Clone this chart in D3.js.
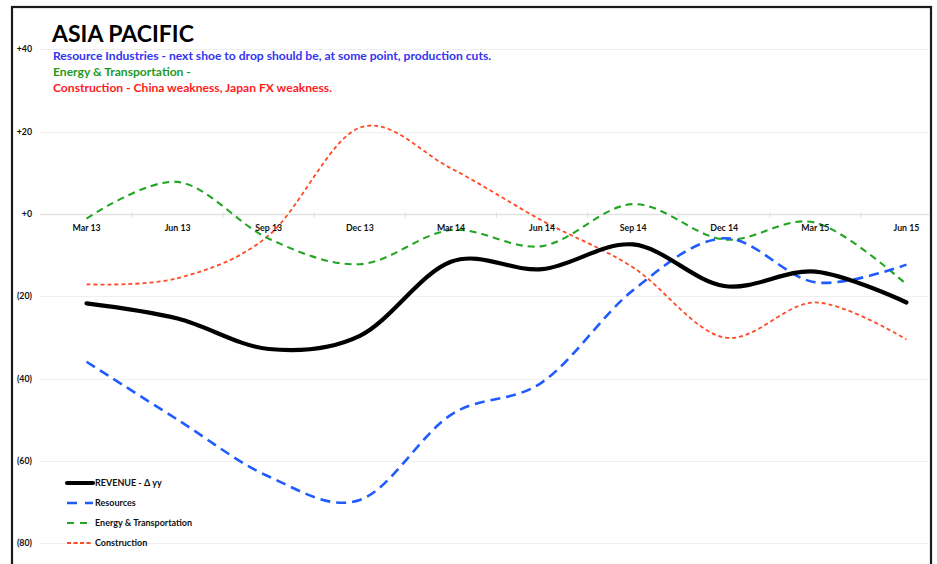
<!DOCTYPE html>
<html>
<head>
<meta charset="utf-8">
<script src="https://cdn.jsdelivr.net/npm/d3@7"></script>
<style>
  html, body { margin: 0; padding: 0; background: #fff; }
  svg { display: block; }
  text { font-family: Lato, "Open Sans", sans-serif; }
</style>
</head>
<body>
<svg id="chart" width="937" height="564"></svg>
<script>
// Quarterly year-over-year change, Asia Pacific
const quarters = ["Mar 13", "Jun 13", "Sep 13", "Dec 13", "Mar 14", "Jun 14", "Sep 14", "Dec 14", "Mar 15", "Jun 15"];
const revenue = [-21.7, -25.4, -32.8, -29.6, -11.6, -13.4, -7.4, -17.5, -14.0, -21.5];
const resources = [-35.9, -50.0, -63.8, -69.5, -48.8, -40.9, -18.5, -5.9, -16.6, -12.3];
const energyTransport = [-1.1, 7.8, -6.0, -12.2, -3.9, -7.8, 2.4, -6.2, -2.1, -17.1];
const construction = [-17.1, -15.6, -5.2, 21.0, 11.1, -1.6, -13.0, -30.0, -21.5, -30.5];
const yTicks = [40, 20, 0, -20, -40, -60, -80];
const yTickLabels = ["+40", "+20", "+0", "(20)", "(40)", "(60)", "(80)"];

const title = "ASIA PACIFIC";
const notes = [
  { text: "Resource Industries - next shoe to drop should be, at some point, production cuts.", color: "#3434f0" },
  { text: "Energy & Transportation -", color: "#1f9a1f" },
  { text: "Construction - China weakness, Japan FX weakness.", color: "#ff1c1c" }
];

const series = [
  { name: "REVENUE - \u0394 yy", values: revenue, color: "#000000", width: 4.2, dash: null, legendDash: null },
  { name: "Resources", values: resources, color: "#1f5bff", width: 2.6, dash: "10,6", legendDash: "10,8" },
  { name: "Energy & Transportation", values: energyTransport, color: "#23a523", width: 2.1, dash: "7,5", legendDash: "7,6" },
  { name: "Construction", values: construction, color: "#ff4a26", width: 1.8, dash: "4,3", legendDash: "4,2.5" }
];

const svg = d3.select("#chart");

const x = d3.scaleBand().domain(quarters).range([41, 952]);
const cx = d => x(d) + x.bandwidth() / 2;
const y = d3.scaleLinear().domain([-80, 40]).range([543.2, 49.4]);

// Outer frame
svg.append("rect")
  .attr("x", 12).attr("y", 7).attr("width", 919).attr("height", 580)
  .attr("fill", "#fff").attr("stroke", "#1a1a1a").attr("stroke-width", 2.2);

const plot = svg.append("g");
plot.append("clipPath").attr("id", "clip")
  .append("rect").attr("x", 13).attr("y", 8).attr("width", 917).attr("height", 560);

// Horizontal gridlines
const grid = plot.append("g").attr("clip-path", "url(#clip)");
grid.selectAll("line.grid").data(yTicks).join("line")
  .attr("class", "grid")
  .attr("x1", 40).attr("x2", 952)
  .attr("y1", d => Math.round(y(d)) + 0.5).attr("y2", d => Math.round(y(d)) + 0.5)
  .attr("stroke", d => d === 0 ? "#e2e2e2" : "#efefef")
  .attr("stroke-width", d => d === 0 ? 1.5 : 1);

// Category boundary ticks on the zero line
const bounds = quarters.slice(1).map(q => x(q));
grid.selectAll("line.tick").data(bounds).join("line")
  .attr("class", "tick")
  .attr("x1", d => d).attr("x2", d => d)
  .attr("y1", Math.round(y(0)) - 2).attr("y2", Math.round(y(0)) + 4)
  .attr("stroke", "#e2e2e2").attr("stroke-width", 1);

// Y axis labels
svg.append("g").selectAll("text").data(yTicks).join("text")
  .attr("x", 32).attr("y", d => y(d))
  .attr("dy", "0.35em")
  .attr("text-anchor", "end")
  .attr("font-size", 8.8).attr("font-weight", 700).attr("fill", "#111")
  .text((d, i) => yTickLabels[i]);

// X axis labels
svg.append("g").selectAll("text").data(quarters).join("text")
  .attr("x", d => cx(d)).attr("y", y(0) + 14)
  .attr("dy", "0.35em")
  .attr("text-anchor", "middle")
  .attr("font-size", 8.8).attr("font-weight", 700).attr("fill", "#111")
  .text(d => d);

// Series lines
const line = d3.line()
  .x((d, i) => cx(quarters[i]))
  .y(d => y(d))
  .curve(d3.curveCardinal.tension(0));

const order = [series[3], series[2], series[1], series[0]];
plot.append("g").selectAll("path").data(order).join("path")
  .attr("d", s => line(s.values))
  .attr("fill", "none")
  .attr("stroke", s => s.color)
  .attr("stroke-width", s => s.width)
  .attr("stroke-dasharray", s => s.dash)
  .attr("stroke-linecap", s => s.dash ? "butt" : "round");

// Title and notes
svg.append("text")
  .attr("x", 52).attr("y", 42)
  .attr("font-size", 23).attr("font-weight", 700).attr("fill", "#000")
  .text(title);

svg.append("g").selectAll("text").data(notes).join("text")
  .attr("x", 53).attr("y", (d, i) => 60 + i * 16)
  .attr("font-size", 12.1).attr("font-weight", 700)
  .attr("fill", d => d.color)
  .text(d => d.text);

// Legend
const legend = svg.append("g");
const item = legend.selectAll("g").data(series).join("g")
  .attr("transform", (d, i) => `translate(67, ${483 + i * 20})`);
item.append("line")
  .attr("x1", 0).attr("x2", 26).attr("y1", 0).attr("y2", 0)
  .attr("stroke", d => d.color)
  .attr("stroke-width", d => d.width)
  .attr("stroke-dasharray", d => d.legendDash)
  .attr("stroke-linecap", d => d.dash ? "butt" : "round");
item.append("text")
  .attr("x", 28).attr("y", 0).attr("dy", "0.35em")
  .attr("font-size", 9).attr("font-weight", 700).attr("fill", "#111")
  .text(d => d.name);
</script>
</body>
</html>
